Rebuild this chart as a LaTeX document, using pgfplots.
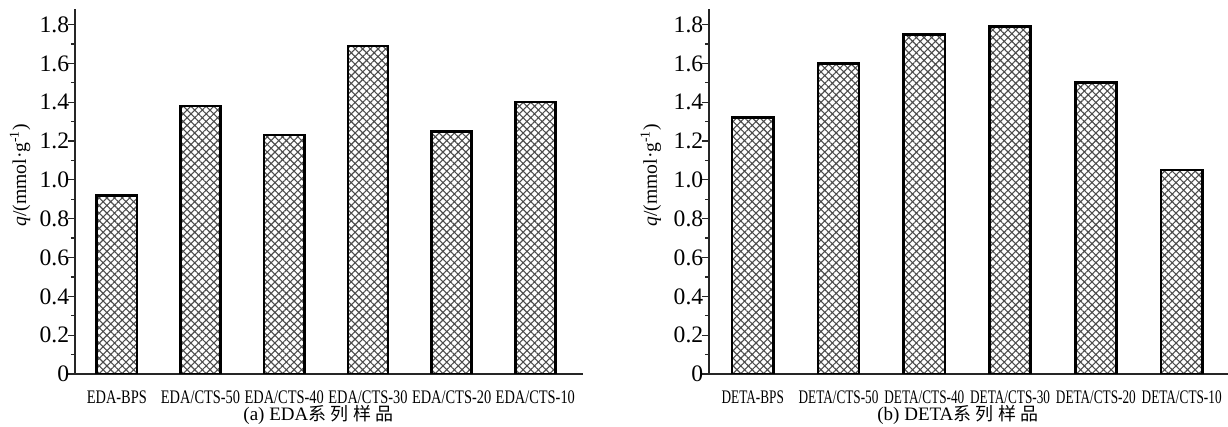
\documentclass[border=0pt]{standalone}
\usepackage{fontspec}
\setmainfont{Liberation Serif}
\newfontfamily\cond[FakeStretch=0.75]{Liberation Serif}
\newfontfamily\condb[FakeStretch=0.69]{Liberation Serif}
\newfontfamily\cjk{Noto Sans CJK SC}
\usepackage{pgfplots}
\pgfplotsset{compat=1.18}
\usetikzlibrary{patterns.meta}
\pgfplotsset{
  panel/.style={
    scale only axis,
    height=182.5pt,
    ymin=0, ymax=1.88,
    axis x line=bottom,
    axis y line=left,
    axis line style={-, line width=0.8pt, black!85},
    ytick={0,0.2,0.4,0.6,0.8,1.0,1.2,1.4,1.6,1.8},
    yticklabels={0,0.2,0.4,0.6,0.8,1.0,1.2,1.4,1.6,1.8},
    minor y tick num=1,
    tick align=outside,
    major tick length=3.5pt,
    minor tick length=2pt,
    every tick/.style={line width=0.6pt, black!85},
    xtick=data,
    x tick style={draw=none},
    /pgf/number format/assume math mode=true,
    yticklabel style={font=\fontsize{11.8}{13}\selectfont, inner xsep=0pt, xshift=0.8pt},
    xticklabel style={font=\cond\fontsize{9.6}{11}\selectfont, yshift=-1.2pt},
    ylabel={\textit{q}/(mmol·g\textsuperscript{-1})},
    ylabel style={font=\fontsize{9.8}{11}\selectfont, anchor=center},
    ybar, bar width=0.48,
  },
  hbar/.style={draw=black, line width=1.3pt, pattern={Hatch[angle=45,distance=2.7pt,line width=0.55pt]}, pattern color=black!70},
}
\begin{document}
\begin{tikzpicture}
\path[use as bounding box] (0,0) rectangle (614pt,213.5pt);
\begin{axis}[panel, at={(37.5pt,26.5pt)}, anchor=south west, width=254pt,
  xmin=-0.5, xmax=5.57,
  xticklabels={EDA-BPS,EDA/CTS-50,EDA/CTS-40,EDA/CTS-30,EDA/CTS-20,EDA/CTS-10},
  ylabel style={at={(axis description cs:-0.108,0.545)}}]
\addplot[hbar] coordinates {(0,0.92) (1,1.38) (2,1.23) (3,1.69) (4,1.25) (5,1.40)};
\end{axis}
\begin{axis}[panel, at={(354.5pt,26.5pt)}, anchor=south west, width=259.5pt,
  xmin=-0.51, xmax=5.54,
  xticklabels={DETA-BPS,DETA/CTS-50,DETA/CTS-40,DETA/CTS-30,DETA/CTS-20,DETA/CTS-10},
  xticklabel style={font=\condb\fontsize{9.6}{11}\selectfont},
  ylabel style={at={(axis description cs:-0.112,0.545)}}]
\addplot[hbar] coordinates {(0,1.32) (1,1.60) (2,1.75) (3,1.79) (4,1.50) (5,1.05)};
\end{axis}
\node[anchor=base, font=\fontsize{9.5}{11}\selectfont] at (159.25pt,3pt) {(a) EDA{\cjk\fontsize{9}{11}\selectfont 系\hspace{2.2pt}列\hspace{2.2pt}样\hspace{2.2pt}品}};
\node[anchor=base, font=\fontsize{9.5}{11}\selectfont] at (479pt,3pt) {(b) DETA{\cjk\fontsize{9}{11}\selectfont 系\hspace{2.2pt}列\hspace{2.2pt}样\hspace{2.2pt}品}};
\end{tikzpicture}
\end{document}
